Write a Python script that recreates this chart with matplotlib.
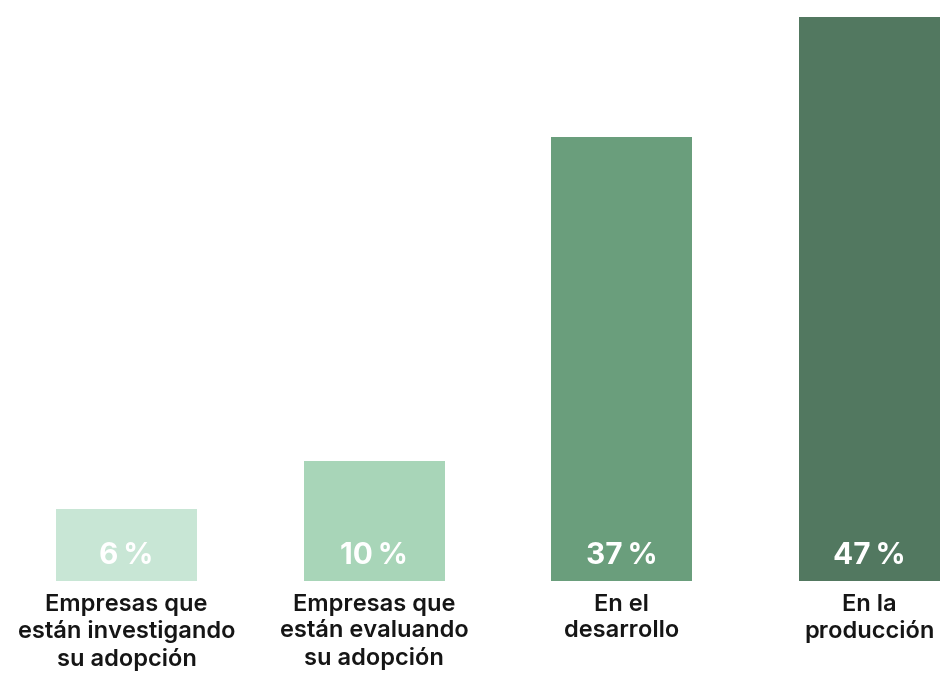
import matplotlib
matplotlib.use("Agg")
import matplotlib.pyplot as plt

categories = ["Empresas que\nestán investigando\nsu adopción",
              "Empresas que\nestán evaluando\nsu adopción",
              "En el\ndesarrollo",
              "En la\nproducción"]
values = [6, 10, 37, 47]
value_labels = ["6\u2009%", "10\u2009%", "37\u2009%", "47\u2009%"]
colors = ["#c8e6d5", "#a8d5b8", "#6a9e7c", "#527860"]

W, H = 940, 679
fig = plt.figure(figsize=(W / 100, H / 100), dpi=100)
bottom_px = 581
ax = fig.add_axes([0, (H - bottom_px) / H, 1, bottom_px / H])
px_per_unit = 247.67
ax.set_xlim(-126.5 / px_per_unit, 3 + (940 - 869.5) / px_per_unit)
ax.set_ylim(0, bottom_px / 12)
ax.axis("off")

xs = list(range(len(values)))
ax.bar(xs, values, width=141 / px_per_unit, color=colors)

for x, lab in zip(xs, value_labels):
    ax.text(x, 2.1, lab, ha="center", va="center", color="white",
            fontsize=21.5, fontweight="bold", family=["Inter", "DejaVu Sans"])

for x, cat in zip(xs, categories):
    ax.text(x, -1.05, cat, ha="center", va="top", color="#151515",
            fontsize=17, fontweight="semibold", family=["Inter", "DejaVu Sans"],
            linespacing=1.27, clip_on=False)

fig.savefig("out.png", dpi=100)
